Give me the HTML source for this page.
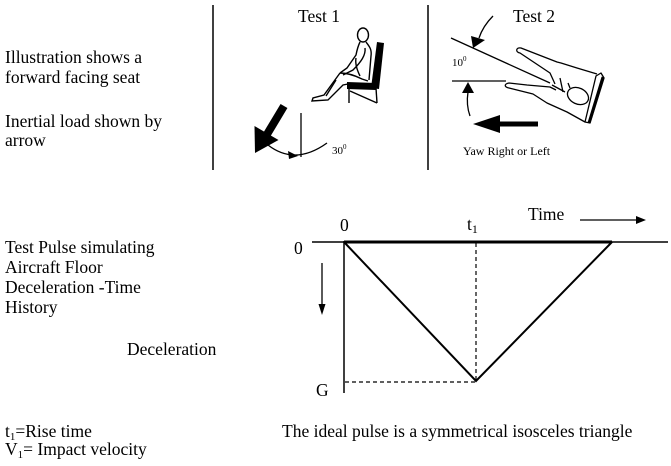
<!DOCTYPE html>
<html>
<head>
<meta charset="utf-8">
<style>
  html, body { margin:0; padding:0; background:#fff; }
  svg { display:block; }
  text { font-family: "Liberation Serif", "DejaVu Serif", serif; fill:#000; }
</style>
</head>
<body>
<svg width="671" height="466" viewBox="0 0 671 466" xmlns="http://www.w3.org/2000/svg">
  <rect width="671" height="466" fill="#fff"/>

  <!-- Left text top -->
  <text x="5" y="63" font-size="17.5">Illustration shows a</text>
  <text x="5" y="83" font-size="17.5">forward facing seat</text>
  <text x="5" y="127" font-size="17.5">Inertial load shown by</text>
  <text x="5" y="146" font-size="17.5">arrow</text>

  <!-- dividers -->
  <line x1="213" y1="5" x2="213" y2="170" stroke="#000" stroke-width="1.5"/>
  <line x1="428" y1="5" x2="428" y2="170" stroke="#000" stroke-width="1.5"/>

  <!-- Test 1 -->
  <text x="298" y="22" font-size="17.5">Test 1</text>

  <!-- seat -->
  <polygon points="377,42 384,43 379,89 371,88" fill="#000"/>
  <polygon points="347,82 376,83 376,90 347,89" fill="#000"/>
  <g stroke="#000" stroke-width="1.4" fill="none">
    <line x1="349" y1="88" x2="349" y2="103"/>
    <line x1="350" y1="91" x2="377" y2="103"/>
    <line x1="376" y1="88" x2="377" y2="103"/>
    <!-- person -->
    <ellipse cx="363" cy="35" rx="5.5" ry="7"/>
    <path d="M366,42 C369,46 372,49 371,56 L369,80"/>
    <path d="M360,42 C358,46 357,50 356,55 L347,68 L340,73"/>
    <path d="M365,48 C366,55 361,62 353,70 L343,75"/>
    <path d="M356,58 C355,64 357,70 360,76"/>
    <path d="M340,73 C348,73 356,76 362,79 L368,81"/>
    <path d="M340,73 L324,95 L313,98 L312,101 L328,100 L343,85 L348,84"/>
    <path d="M336,80 L326,96"/>
  </g>

  <!-- big arrow test 1 -->
  <line x1="284" y1="106" x2="266" y2="136" stroke="#000" stroke-width="8"/>
  <polygon points="255,153 254.5,126 278.5,140" fill="#000"/>
  <line x1="301" y1="113" x2="301" y2="157" stroke="#000" stroke-width="1.3"/>
  <path d="M268,145 Q295,166 327,143" stroke="#000" stroke-width="1.3" fill="none"/>
  <polygon points="298,156 288,151 289,159" fill="#000"/>
  <text x="332" y="154" font-size="11">30<tspan font-size="7" dy="-5">0</tspan></text>

  <!-- Test 2 -->
  <text x="513" y="22" font-size="17.5">Test 2</text>
  <line x1="451" y1="38" x2="550" y2="83" stroke="#000" stroke-width="1.3"/>
  <path d="M493,16 Q483,26 479,38" stroke="#000" stroke-width="1.3" fill="none"/>
  <polygon points="471,36 485,40 473,48" fill="#000"/>
  <text x="452" y="66" font-size="11">10<tspan font-size="7" dy="-5">0</tspan></text>
  <line x1="452" y1="81" x2="506" y2="81" stroke="#000" stroke-width="1.3"/>
  <polygon points="468,82 462,93 474,93" fill="#000"/>
  <path d="M468,92 Q466,105 470,116" stroke="#000" stroke-width="1.3" fill="none"/>
  <!-- left arrow -->
  <line x1="538" y1="124" x2="496" y2="124" stroke="#000" stroke-width="5"/>
  <polygon points="473,124 500,115 500,133" fill="#000"/>
  <text x="463" y="155" font-size="12">Yaw Right or Left</text>

  <!-- test 2 person (top view) -->
  <g stroke="#000" stroke-width="1.3" fill="none" stroke-linejoin="round">
    <polygon points="596,76 601,73 604,78 590,123 585,122"/>
    <line x1="603" y1="77" x2="589" y2="123" stroke-width="3"/>
    <!-- upper arm -->
    <path d="M597,74 L577,68 L561,63 L557,62 L521,48 C516,47 515,52 520,53 L550,73 L555,84"/>
    <!-- lower arm -->
    <path d="M556,90 L550,87 L527,85 L509,83 C504,84 504,87 509,88 L533,94 L547,103 L567,112 L585,122"/>
    <path d="M552,85 L565,92"/>
    <path d="M560,78 L563,92"/>
    <path d="M568,83 L570,88"/>
    <ellipse cx="578" cy="96" rx="11" ry="8" transform="rotate(25 578 96)"/>
  </g>

  <!-- Lower left text -->
  <text x="5" y="253" font-size="17.5">Test Pulse simulating</text>
  <text x="5" y="273" font-size="17.5">Aircraft Floor</text>
  <text x="5" y="293" font-size="17.5">Deceleration -Time</text>
  <text x="5" y="313" font-size="17.5">History</text>
  <text x="127" y="355" font-size="17.5">Deceleration</text>

  <!-- chart -->
  <text x="528" y="220" font-size="17.5">Time</text>
  <line x1="580" y1="220" x2="638" y2="220" stroke="#000" stroke-width="1.3"/>
  <polygon points="636,216 646,220 636,224" fill="#000"/>
  <text x="340" y="231" font-size="17.5">0</text>
  <text x="467" y="230" font-size="17.5">t<tspan font-size="12" dy="3">1</tspan></text>
  <text x="294" y="254" font-size="17.5">0</text>
  <text x="316" y="396" font-size="17.5">G</text>

  <line x1="312" y1="242" x2="668" y2="242" stroke="#000" stroke-width="1.5"/>
  <line x1="344" y1="242" x2="612" y2="242" stroke="#000" stroke-width="3"/>
  <line x1="344" y1="241" x2="344" y2="393" stroke="#000" stroke-width="1.5"/>
  <polyline points="344,242 476,381 612,242" stroke="#000" stroke-width="2" fill="none"/>
  <line x1="476" y1="243" x2="476" y2="381" stroke="#000" stroke-width="1.2" stroke-dasharray="4,3"/>
  <line x1="345" y1="382" x2="476" y2="382" stroke="#000" stroke-width="1.2" stroke-dasharray="4,3"/>
  <line x1="322" y1="263" x2="322" y2="308" stroke="#000" stroke-width="1.3"/>
  <polygon points="318.5,304 325.5,304 322,315" fill="#000"/>

  <!-- bottom text -->
  <text x="5" y="437" font-size="17.5">t<tspan font-size="11" dy="3">1</tspan><tspan dy="-3">=Rise time</tspan></text>
  <text x="5" y="455" font-size="17.5">V<tspan font-size="11" dy="3">1</tspan><tspan dy="-3">= Impact velocity</tspan></text>
  <text x="282" y="437" font-size="17.5">The ideal pulse is a symmetrical isosceles triangle</text>
</svg>
</body>
</html>
